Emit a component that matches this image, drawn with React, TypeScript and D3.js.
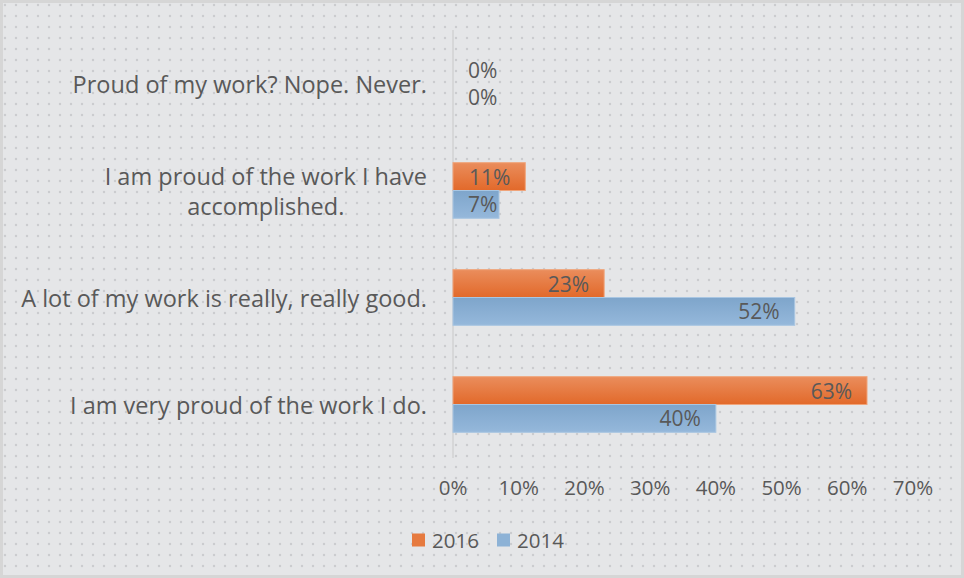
import React from "react";
import * as d3 from "d3";

const categories = [
  "Proud of my work? Nope. Never.",
  "I am proud of the work I have|accomplished.",
  "A lot of my work is really, really good.",
  "I am very proud of the work I do.",
];
const series2016 = [0, 11, 23, 63];
const series2014 = [0, 7, 52, 40];
const seriesNames = ["2016", "2014"];
const xTicks = [0, 10, 20, 30, 40, 50, 60, 70];

const W = 964;
const H = 578;
const FONT = "'Open Sans', sans-serif";
const TXT = "#595959";

let ctx: CanvasRenderingContext2D | null = null;
function measure(text: string, size: number): number {
  if (!ctx && typeof document !== "undefined") {
    ctx = document.createElement("canvas").getContext("2d");
  }
  if (!ctx) return text.length * size * 0.55;
  ctx.font = `${size}px 'Open Sans', sans-serif`;
  return ctx.measureText(text).width;
}

export default function App() {
  const x = d3.scaleLinear().domain([0, 70]).range([453, 913]);
  const y = d3.scaleBand<string>().domain(categories).range([30, 458]).paddingInner(0.48).paddingOuter(0.24);
  const sub = d3.scaleBand<string>().domain(seriesNames).range([0, y.bandwidth()]);
  const seriesVals = [series2016, series2014];
  const fills = ["url(#gOrange)", "url(#gBlue)"];
  const strokes = ["#F0A47A", "#A9C6E2"];
  const catSize = 23.5;
  const labSize = 21;
  const tickSize = 20.5;

  return (
    <svg width={W} height={H} style={{ position: "absolute", left: 0, top: 0 }}>
      <defs>
        <pattern id="dots" width="11" height="11" patternUnits="userSpaceOnUse">
          <rect width="11" height="11" fill="#e5e6e8" />
          <circle cx="5" cy="5" r="1.2" fill="#cbcccf" />
        </pattern>
        <linearGradient id="gOrange" x1="0" y1="0" x2="0" y2="1">
          <stop offset="0" stopColor="#EA8D5C" />
          <stop offset="1" stopColor="#E2692A" />
        </linearGradient>
        <linearGradient id="gBlue" x1="0" y1="0" x2="0" y2="1">
          <stop offset="0" stopColor="#7EA5CB" />
          <stop offset="1" stopColor="#95B8DB" />
        </linearGradient>
      </defs>
      <rect x={0} y={0} width={W} height={H} fill="url(#dots)" />
      <rect x={1.5} y={1.5} width={W - 3} height={H - 3} fill="none" stroke="#d6d6d6" strokeWidth={3} />
      <line x1={x(0)} x2={x(0)} y1={30} y2={458} stroke="#c8c8c8" strokeWidth={1} />
      {categories.map((c, ci) => {
        const lines = c.split("|");
        const cy = (y(c) ?? 0) + y.bandwidth() / 2;
        const maxW = Math.max(...lines.map((l) => measure(l, catSize)));
        const multi = lines.length > 1;
        return (
          <g key={c}>
            {lines.map((ln, li) => (
              <text
                key={li}
                x={multi ? 427 - maxW / 2 : 427}
                y={cy + (li - (lines.length - 1) / 2) * 30}
                textAnchor={multi ? "middle" : "end"}
                dominantBaseline="central"
                fontFamily={FONT}
                fontSize={catSize}
                fill={TXT}
              >
                {ln}
              </text>
            ))}
            {seriesVals.map((vals, si) => {
              const v = vals[ci];
              const by = (y(c) ?? 0) + (sub(seriesNames[si]) ?? 0);
              const bh = sub.bandwidth();
              const xe = x(v);
              const label = `${v}%`;
              const w = measure(label, labSize);
              const endX = Math.max(xe - 15, x(0) + 15 + w);
              return (
                <g key={si}>
                  {v > 0 && (
                    <rect x={x(0)} y={by} width={xe - x(0)} height={bh} fill={fills[si]} stroke={strokes[si]} strokeWidth={1} />
                  )}
                  <text
                    x={endX}
                    y={by + bh / 2}
                    textAnchor="end"
                    dominantBaseline="central"
                    fontFamily={FONT}
                    fontSize={labSize}
                    fill={TXT}
                  >
                    {label}
                  </text>
                </g>
              );
            })}
          </g>
        );
      })}
      {xTicks.map((t) => (
        <text key={t} x={x(t)} y={487} textAnchor="middle" dominantBaseline="central" fontFamily={FONT} fontSize={tickSize} fill={TXT}>
          {`${t}%`}
        </text>
      ))}
      {seriesNames.map((n, i) => (
        <g key={n} transform={`translate(${412 + i * 85},540)`}>
          <rect x={0} y={-6.5} width={13} height={13} fill={i === 0 ? "#E67A3F" : "#8DB2D6"} />
          <text x={20} y={0} dominantBaseline="central" fontFamily={FONT} fontSize={tickSize} fill={TXT}>
            {n}
          </text>
        </g>
      ))}
    </svg>
  );
}
